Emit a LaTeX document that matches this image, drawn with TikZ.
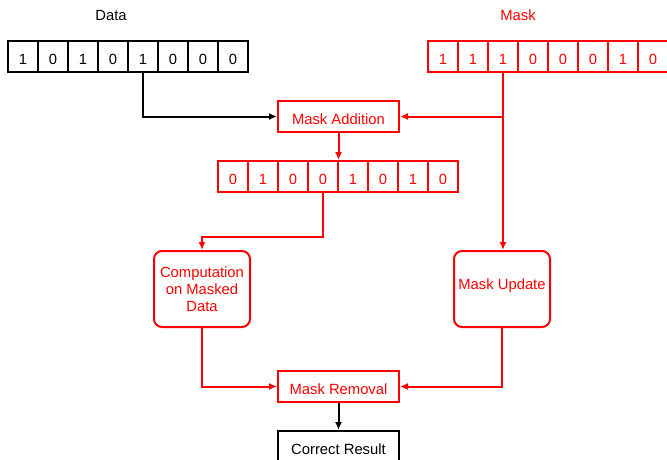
\documentclass[tikz,border=0pt]{standalone}
\usepackage{fontspec}
\setmainfont{Liberation Sans}
\usetikzlibrary{arrows.meta}
\definecolor{mred}{RGB}{255,0,0}
\begin{document}
\begin{tikzpicture}[x=1pt,y=-1pt,
  font=\fontsize{14.8}{17}\selectfont,
  cell/.style={draw, line width=2pt, minimum width=30pt, minimum height=31pt,
    inner sep=0pt, text height=16pt, text depth=0pt},
  box/.style={draw, line width=2pt, minimum width=121pt, minimum height=31pt,
    inner sep=0pt, text height=16pt, text depth=0pt},
  rbox/.style={draw, line width=2pt, minimum width=96pt, minimum height=76pt,
    inner sep=0pt, rounded corners=8pt, align=center},
  arr/.style={line width=2pt, -{Latex[length=8pt,width=7pt]}}]
\useasboundingbox (0,0) rectangle (667,460);
\clip (0,0) rectangle (667,460);
\node (dlabel) at (111,15) {Data};
\node[text=mred] (mlabel) at (518,15) {Mask};
\foreach \v [count=\i] in {1,0,1,0,1,0,0,0}
  \node[cell] (d\i) at ({23+30*(\i-1)},56.5) {\v};
\foreach \v [count=\i] in {1,1,1,0,0,0,1,0}
  \node[cell,draw=mred,text=mred] (m\i) at ({443+30*(\i-1)},56.5) {\v};
\foreach \v [count=\i] in {0,1,0,0,1,0,1,0}
  \node[cell,draw=mred,text=mred] (r\i) at ({233+30*(\i-1)},176.5) {\v};
\node[box,draw=mred,text=mred] (add) at (338.5,116.5) {Mask Addition};
\node[box,draw=mred,text=mred] (rem) at (338.5,386.5) {Mask Removal};
\node[box] (res) at (338.5,446.5) {Correct Result};
\node[rbox,draw=mred,text=mred] (comp) at (202,289) {Computation\\on Masked\\Data};
\node[rbox,draw=mred,text=mred,align=none,text height=11pt,text depth=10pt] (upd) at (502,289) {Mask Update};
\draw[arr] (d5.south) |- (add.west);
\coordinate (mj) at (m3.south |- add.east);
\draw[arr,mred] (m3.south) -- (m3.south |- upd.north);
\draw[arr,mred] (mj) -- (add.east);
\draw[arr,mred] (add.south) -- (add.south |- r1.north);
\draw[arr,mred] (r4.south) -- ++(0,44) -| (comp.north);
\draw[arr,mred] (comp.south) |- (rem.west);
\draw[arr,mred] (upd.south) |- (rem.east);
\draw[arr] (rem.south) -- (res.north);
\end{tikzpicture}
\end{document}
